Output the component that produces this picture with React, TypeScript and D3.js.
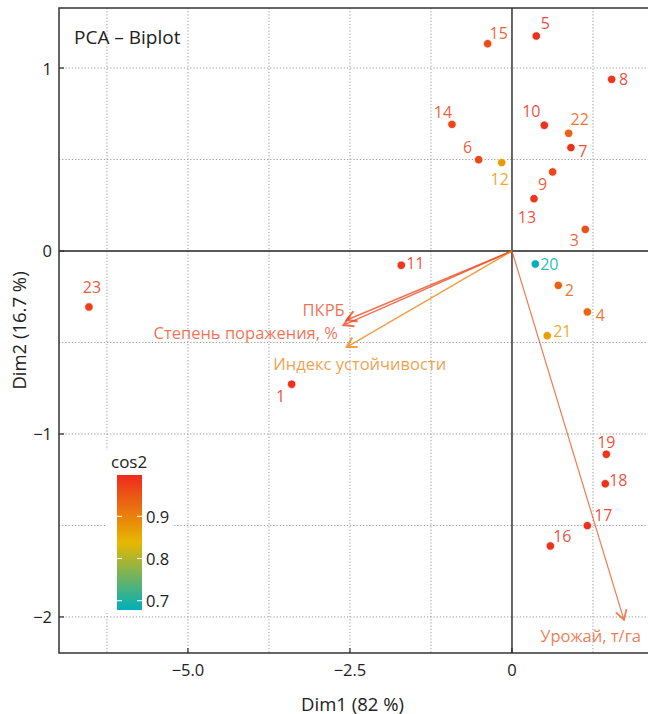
import React from "react";
import * as d3 from "d3";

const W = 648;
const H = 714;

// Individuals (ids 1..23)
const ids = ["1","2","3","4","5","6","7","8","9","10","11","12","13","14","15","16","17","18","19","20","21","22","23"];
const dim1 = [-3.40, 0.715, 1.132, 1.163, 0.375, -0.514, 0.910, 1.538, 0.628, 0.499, -1.708, -0.159, 0.340, -0.926, -0.375, 0.592, 1.163, 1.440, 1.456, 0.360, 0.545, 0.875, -6.528];
const dim2 = [-0.728, -0.188, 0.118, -0.333, 1.175, 0.499, 0.565, 0.938, 0.432, 0.687, -0.078, 0.483, 0.286, 0.692, 1.133, -1.612, -1.501, -1.272, -1.111, -0.071, -0.463, 0.643, -0.306];
const cos2 = [0.99, 0.935, 0.955, 0.93, 0.99, 0.965, 0.99, 0.985, 0.965, 0.99, 0.985, 0.87, 0.985, 0.965, 0.96, 0.99, 0.99, 0.99, 0.985, 0.68, 0.865, 0.935, 0.975];

// Variables
const varNames = ["Урожай, т/га", "ПКРБ", "Степень поражения, %", "Индекс устойчивости"];
const varDim1 = [1.728, -2.55, -2.60, -2.55];
const varDim2 = [-2.016, -0.377, -0.405, -0.525];
const varCos2 = [0.955, 0.97, 0.97, 0.9];

const xTicks = [-5, -2.5, 0];
const xTickLabels = ["\u22125.0", "\u22122.5", "0"];
const yTicks = [-2, -1, 0, 1];
const yTickLabels = ["\u22122", "\u22121", "0", "1"];
const xGrid = [-6.25, -5, -3.75, -2.5, -1.25, 1.25];
const yGrid = [-2, -1.5, -1, -0.5, 0.5, 1];
const legendTicks = [0.7, 0.8, 0.9];
const cos2Range = [0.678, 0.998];
const gradientColors = ["#00AFBB", "#E7B800", "#EE2A1E"];

// label layout (pixel offsets from point to label centre)
const labelOffsets: Record<string, [number, number]> = {
  "1": [-11, 12], "2": [11, 5], "3": [-11, 11], "4": [13, 3], "5": [9, -13],
  "6": [-11, -13], "7": [12, 3], "8": [12, 0], "9": [-10, 12], "10": [-13, -14],
  "11": [14, -2], "12": [-2, 16], "13": [-7, 18], "14": [-9, -12], "15": [11, -11],
  "16": [12, -10], "17": [16, -11], "18": [13, -4], "19": [0, -12], "20": [14, 0],
  "21": [15, -5], "22": [11, -14], "23": [3, -20],
};
const varLabelLayout: [number, number, string][] = [
  [17, 16, "end"],
  [-2, -10, "end"],
  [-5.5, 7.5, "end"],
  [13, 16, "middle"],
];

const FONT = "'Open Sans', 'Noto Sans', sans-serif";

const M = { left: 59, right: 650, top: 8, bottom: 653 };

export default function App() {
  const x = d3.scaleLinear().domain([-6.99, 2.13]).range([M.left, M.right]);
  const y = d3.scaleLinear().domain([-2.197, 1.328]).range([M.bottom, M.top]);
  const mid = (cos2Range[0] + cos2Range[1]) / 2;
  const color = d3
    .scaleLinear<string>()
    .domain([cos2Range[0], mid, cos2Range[1]])
    .range(gradientColors)
    .interpolate(d3.interpolateRgb)
    .clamp(true);

  const legY = d3.scaleLinear().domain(cos2Range).range([610, 475]);
  const gradStops = d3.range(0, 1.0001, 0.05).map((t) => cos2Range[0] + t * (cos2Range[1] - cos2Range[0]));

  const x0 = x(0);
  const y0 = y(0);

  const arrowHead = (tx: number, ty: number, c: string, i: number, w: number) => {
    const ang = Math.atan2(ty - y0, tx - x0);
    const L = 11;
    const a = Math.PI / 6;
    const p1 = [tx - L * Math.cos(ang - a), ty - L * Math.sin(ang - a)];
    const p2 = [tx - L * Math.cos(ang + a), ty - L * Math.sin(ang + a)];
    return (
      <path
        key={"h" + i}
        d={`M${p1[0]},${p1[1]}L${tx},${ty}L${p2[0]},${p2[1]}`}
        fill="none"
        stroke={c}
        strokeWidth={w}
        strokeLinejoin="miter"
      />
    );
  };

  return (
    <svg width={W} height={H} style={{ position: "absolute", left: 0, top: 0, background: "#fff" }} fontFamily={FONT}>
      <defs>
        <clipPath id="panel">
          <rect x={M.left} y={M.top} width={M.right - M.left} height={M.bottom - M.top} />
        </clipPath>
        <linearGradient id="cosgrad" x1="0" y1="1" x2="0" y2="0">
          {gradStops.map((v, i) => (
            <stop key={i} offset={`${(i / (gradStops.length - 1)) * 100}%`} stopColor={color(v)} />
          ))}
        </linearGradient>
      </defs>
      <rect x={0} y={0} width={W} height={H} fill="#fff" />
      <g clipPath="url(#panel)">
        {xGrid.map((v) => (
          <line key={"gx" + v} x1={x(v)} x2={x(v)} y1={M.top} y2={M.bottom} stroke="#9a9a9a" strokeWidth={1} strokeDasharray="1.2 2" />
        ))}
        {yGrid.map((v) => (
          <line key={"gy" + v} x1={M.left} x2={M.right} y1={y(v)} y2={y(v)} stroke="#9a9a9a" strokeWidth={1} strokeDasharray="1.2 2" />
        ))}
        <line x1={M.left} x2={M.right} y1={y0} y2={y0} stroke="#222" strokeWidth={1.4} />
        <line x1={x0} x2={x0} y1={M.top} y2={M.bottom} stroke="#555" strokeWidth={1.8} />

        {varNames.map((n, i) => {
          const c = color(varCos2[i]);
          const tx = x(varDim1[i]);
          const ty = y(varDim2[i]);
          const w = i === 0 ? 1.2 : 1.5;
          return (
            <g key={"v" + i} opacity={0.75}>
              <line x1={x0} y1={y0} x2={tx} y2={ty} stroke={c} strokeWidth={w} />
              {arrowHead(tx, ty, c, i, w + 0.6)}
            </g>
          );
        })}
        {varNames.map((n, i) => {
          const c = color(varCos2[i]);
          const tx = x(varDim1[i]);
          const ty = y(varDim2[i]);
          const [dx, dy, anchor] = varLabelLayout[i];
          return (
            <text key={"vl" + i} x={tx + dx} y={ty + dy} fill={c} fillOpacity={0.75} fontSize={16.5} textAnchor={anchor as any} dominantBaseline="central">
              {n}
            </text>
          );
        })}

        {ids.map((id, i) => (
          <circle key={"p" + id} cx={x(dim1[i])} cy={y(dim2[i])} r={4.2} fill={color(cos2[i])} stroke="#fff" strokeOpacity={0.7} strokeWidth={1} />
        ))}
        {ids.map((id, i) => {
          const [dx, dy] = labelOffsets[id];
          return (
            <text key={"t" + id} x={x(dim1[i]) + dx} y={y(dim2[i]) + dy} fill={color(cos2[i])} fillOpacity={0.88} fontSize={16} textAnchor="middle" dominantBaseline="central">
              {id}
            </text>
          );
        })}

        {/* legend */}
        <rect x={106} y={450} width={66} height={163} fill="#fff" />
        <text x={111} y={468} fontSize={17} fill="#222">cos2</text>
        <rect x={117} y={legY(cos2Range[1])} width={25} height={legY(cos2Range[0]) - legY(cos2Range[1])} fill="url(#cosgrad)" />
        {legendTicks.map((v) => (
          <g key={"lt" + v}>
            <line x1={117} x2={122} y1={legY(v)} y2={legY(v)} stroke="#fff" strokeWidth={1} />
            <line x1={137} x2={142} y1={legY(v)} y2={legY(v)} stroke="#fff" strokeWidth={1} />
            <text x={146} y={legY(v)} fontSize={16.5} fill="#222" dominantBaseline="central">
              {v.toFixed(1)}
            </text>
          </g>
        ))}

        <text x={74} y={44} fontSize={19} fill="#222">PCA – Biplot</text>
      </g>

      {/* panel border */}
      <rect x={M.left} y={M.top} width={M.right - M.left} height={M.bottom - M.top} fill="none" stroke="#333" strokeWidth={1.5} />

      {/* ticks */}
      {xTicks.map((v, i) => (
        <g key={"xt" + v}>
          <line x1={x(v)} x2={x(v)} y1={M.bottom} y2={M.bottom - 5} stroke="#333" strokeWidth={1.3} />
          <text x={x(v)} y={669} fontSize={16.5} fill="#222" textAnchor="middle" dominantBaseline="central">
            {xTickLabels[i]}
          </text>
        </g>
      ))}
      {yTicks.map((v, i) => (
        <g key={"yt" + v}>
          <line x1={M.left} x2={M.left + 5} y1={y(v)} y2={y(v)} stroke="#333" strokeWidth={1.3} />
          <text x={52} y={y(v)} fontSize={16.5} fill="#222" textAnchor="end" dominantBaseline="central">
            {yTickLabels[i]}
          </text>
        </g>
      ))}

      <text x={(M.left + 646) / 2} y={703} fontSize={18.5} fill="#222" textAnchor="middle" dominantBaseline="central">
        Dim1 (82 %)
      </text>
      <text
        transform={`translate(18,${(M.top + M.bottom) / 2}) rotate(-90)`}
        fontSize={18.5}
        fill="#222"
        textAnchor="middle"
        dominantBaseline="central"
      >
        Dim2 (16.7 %)
      </text>
    </svg>
  );
}
